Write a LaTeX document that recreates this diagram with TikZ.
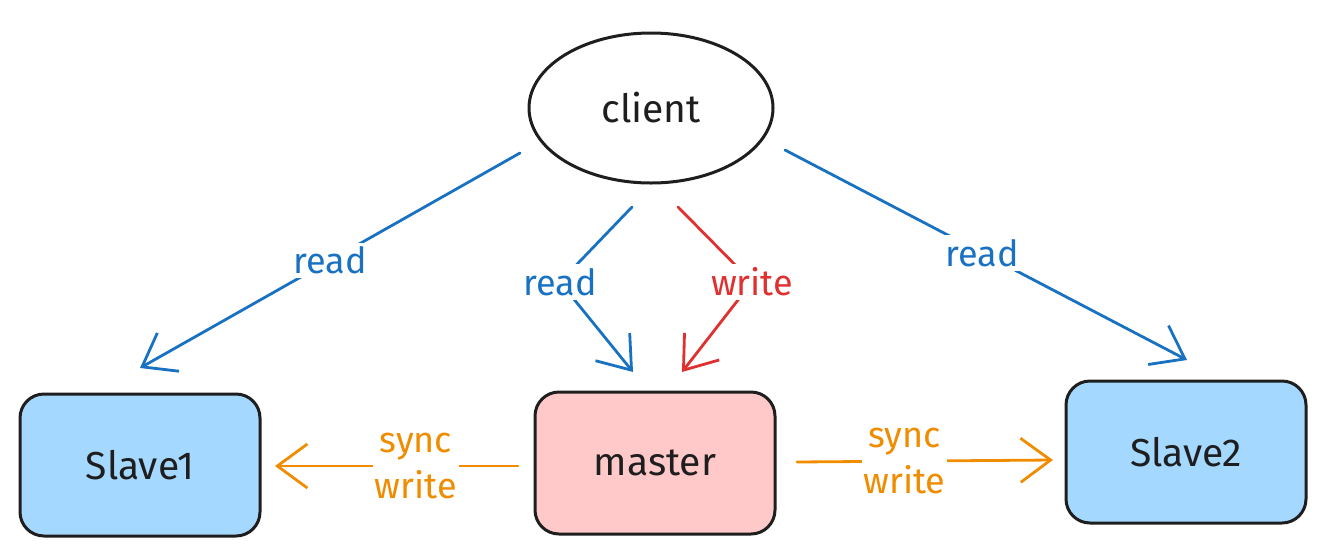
\documentclass[tikz,border=0pt]{standalone}
\usepackage{fontspec}
\setmainfont{Fira Sans}
\usetikzlibrary{arrows.meta,shapes.geometric}
\definecolor{cblue}{HTML}{1971C2}
\definecolor{cred}{HTML}{E03131}
\definecolor{corange}{HTML}{F08C00}
\definecolor{fblue}{HTML}{A5D8FF}
\definecolor{fred}{HTML}{FFC9C9}
\definecolor{ink}{HTML}{1E1E1E}
\tikzset{
  box/.style={draw=ink, line width=3pt, rounded corners=24pt, minimum width=240pt, minimum height=142pt, font=\fontsize{39}{42}\selectfont, text=ink},
  oval/.style={ellipse, draw=ink, line width=3pt, minimum width=244pt, minimum height=150pt, font=\fontsize{39}{42}\selectfont, text=ink, fill=white},
  conn/.style={line width=2.8pt, line cap=round, line join=round, -{Straight Barb[length=30pt, width=44pt, line width=2.8pt]}},
  lbl/.style={font=\fontsize{36}{46}\selectfont, fill=white, inner sep=4pt, align=center},
}
\begin{document}
\begin{tikzpicture}[x=1pt,y=-1pt]
\useasboundingbox (0,0) rectangle (1328,555);
\node[oval] (client) at (651,108) {client};
\node[box, fill=fblue] (s1) at (140,465) {Slave1};
\node[box, fill=fred] (m) at (655,463) {master};
\node[box, fill=fblue] (s2) at (1186,452) {Slave2};

\coordinate (c1) at (520,153);
\coordinate (e1) at (140,368);
\draw[conn, cblue] (c1) -- node[lbl, text=cblue, pos=0.5] {read} (e1);

\coordinate (c2) at (632,207);
\coordinate (b2) at (560,282);
\coordinate (e2) at (633,372);
\draw[conn, cblue] (c2) -- (b2) -- (e2);
\node[lbl, text=cblue] (l2) at (b2) {read};

\coordinate (c3) at (678,207);
\coordinate (b3) at (752,282);
\coordinate (e3) at (682,372);
\draw[conn, cred] (c3) -- (b3) -- (e3);
\node[lbl, text=cred] (l3) at (b3) {write};

\coordinate (c4) at (785,150);
\coordinate (e4) at (1187,360);
\draw[conn, cblue] (c4) -- node[lbl, text=cblue, pos=0.49] {read} (e4);

\coordinate (c5) at (518,466);
\coordinate (e5) at (275,466);
\draw[conn, corange] (c5) -- node[lbl, text=corange, pos=0.42, inner sep=2pt] {sync\\write} (e5);

\coordinate (c6) at (797,462);
\coordinate (e6) at (1053,460);
\draw[conn, corange] (c6) -- node[lbl, text=corange, pos=0.42, inner sep=2pt] {sync\\write} (e6);
\end{tikzpicture}
\end{document}
